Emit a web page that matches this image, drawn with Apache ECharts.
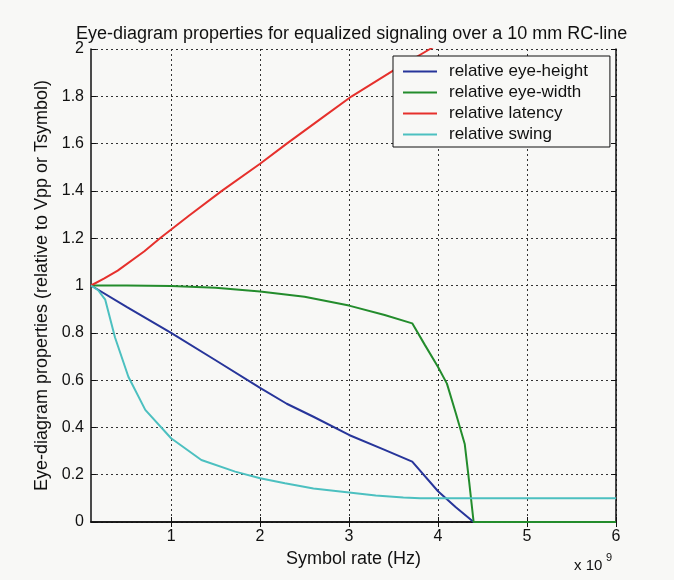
<!DOCTYPE html>
<html>
<head>
<meta charset="utf-8">
<script src="https://cdn.jsdelivr.net/npm/echarts@6/dist/echarts.min.js"></script>
<style>
html,body{margin:0;padding:0;background:#f8f8f6;}
#c{width:674px;height:580px;}
</style>
</head>
<body>
<div id="c"></div>
<script>
// x values in units of 1e9 Hz
const xTicks = [1, 2, 3, 4, 5, 6];
const seriesNames = ['relative eye-height', 'relative eye-width', 'relative latency', 'relative swing'];
const eyeHeight = [[0.1,1.0],[0.5,0.91],[1.0,0.80],[1.5,0.684],[2.0,0.567],[2.3,0.50],[2.6,0.445],[3.0,0.368],[3.4,0.305],[3.71,0.255],[4.0,0.13],[4.2,0.062],[4.4,0],[6.0,0]];
const eyeWidth = [[0.1,1.0],[0.5,1.0],[1.0,0.998],[1.5,0.99],[2.0,0.975],[2.5,0.952],[3.0,0.915],[3.4,0.875],[3.71,0.84],[3.85,0.75],[4.0,0.655],[4.1,0.585],[4.2,0.46],[4.3,0.33],[4.35,0.17],[4.4,0],[6.0,0]];
const latency = [[0.1,1.0],[0.25,1.03],[0.4,1.063],[0.7,1.145],[0.875,1.2],[1.2,1.295],[1.57,1.4],[2.0,1.515],[2.3,1.6],[2.7,1.71],[3.03,1.8],[3.5,1.91],[3.91,2.0],[4.5,2.13],[5.0,2.24],[6.0,2.46]];
const swing = [[0.1,1.0],[0.18,0.98],[0.26,0.94],[0.37,0.78],[0.52,0.614],[0.71,0.474],[1.0,0.354],[1.34,0.262],[1.72,0.213],[2.0,0.185],[2.28,0.164],[2.6,0.142],[3.0,0.125],[3.3,0.112],[3.61,0.104],[3.8,0.1],[6.0,0.1]];
const colors = ['#27359a', '#238c2c', '#e6302c', '#4cc0c0'];

const font = 'Liberation Sans, Arial, Helvetica, sans-serif';
const chart = echarts.init(document.getElementById('c'));
const mk = (name, data, c) => ({
  name, type: 'line', data, symbol: 'none', smooth: false, clip: true,
  xAxisIndex: 0, yAxisIndex: 0,
  lineStyle: {color: c, width: 2}, itemStyle: {color: c}
});
chart.setOption({
  backgroundColor: '#f8f8f6',
  animation: false,
  title: {
    text: 'Eye-diagram properties for equalized signaling over a 10 mm RC-line',
    left: 71, top: 20,
    textStyle: {fontFamily: font, fontSize: 18, fontWeight: 'normal', color: '#111'}
  },
  grid: {left: 91, right: 58, top: 49, bottom: 58, show: false},
  legend: {
    orient: 'vertical', left: 393, top: 56,
    padding: [7, 22, 4, 10], itemGap: 4, itemWidth: 34, itemHeight: 2,
    icon: 'rect',
    backgroundColor: '#f8f8f6', borderColor: '#111', borderWidth: 1,
    textStyle: {fontFamily: font, fontSize: 17, lineHeight: 16, color: '#111', padding: [0, 0, 0, 7]},
    data: seriesNames
  },
  xAxis: [{
    type: 'value', min: 0.1, max: 6, position: 'bottom',
    axisLine: {show: true, lineStyle: {color: '#111', width: 1.5}},
    axisTick: {show: true, inside: true, length: 5, customValues: xTicks, lineStyle: {color: '#111'}},
    axisLabel: {customValues: xTicks, fontFamily: font, fontSize: 16, color: '#111', margin: 7},
    splitLine: {show: true, lineStyle: {color: '#333', type: [2, 3], width: 1}},
    name: 'Symbol rate (Hz)', nameLocation: 'middle', nameGap: 20,
    nameTextStyle: {fontFamily: font, fontSize: 18, color: '#111'}
  }, {
    type: 'value', min: 0.1, max: 6, position: 'top',
    axisLine: {show: true, lineStyle: {color: '#111', width: 1.5}},
    axisTick: {show: true, inside: true, length: 5, customValues: xTicks, lineStyle: {color: '#111'}},
    axisLabel: {show: false},
    splitLine: {show: false}
  }],
  yAxis: [{
    type: 'value', min: 0, max: 2, interval: 0.2, position: 'left',
    axisLine: {show: true, lineStyle: {color: '#111', width: 1.5}},
    axisTick: {show: true, inside: true, length: 5, lineStyle: {color: '#111'}},
    axisLabel: {fontFamily: font, fontSize: 16, color: '#111', margin: 7},
    splitLine: {show: true, lineStyle: {color: '#333', type: [2, 3], width: 1}},
    name: 'Eye-diagram properties (relative to Vpp or Tsymbol)', nameLocation: 'middle', nameGap: 36,
    nameTextStyle: {fontFamily: font, fontSize: 18, color: '#111'}
  }, {
    type: 'value', min: 0, max: 2, interval: 0.2, position: 'right',
    axisLine: {show: true, lineStyle: {color: '#111', width: 1.5}},
    axisTick: {show: true, inside: true, length: 5, lineStyle: {color: '#111'}},
    axisLabel: {show: false},
    splitLine: {show: false}
  }],
  graphic: [
    {type: 'text', left: 574, top: 558, style: {text: 'x 10', font: '15px ' + font, fill: '#111'}},
    {type: 'text', left: 606, top: 552, style: {text: '9', font: '11px ' + font, fill: '#111'}}
  ],
  series: [
    mk(seriesNames[0], eyeHeight, colors[0]),
    mk(seriesNames[1], eyeWidth, colors[1]),
    mk(seriesNames[2], latency, colors[2]),
    mk(seriesNames[3], swing, colors[3])
  ]
});
</script>
</body>
</html>
